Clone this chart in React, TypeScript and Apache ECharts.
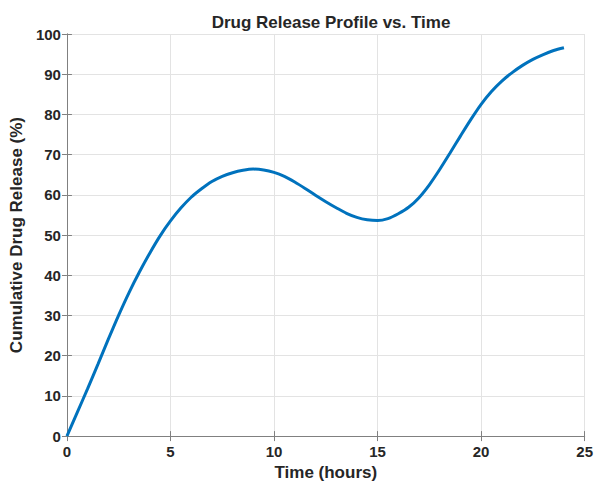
import React, { useEffect, useRef } from "react";
import * as echarts from "echarts";

const hours = [0, 0.5, 1, 1.5, 2, 2.5, 3, 3.5, 4, 4.5, 5, 5.5, 6, 6.5, 7, 7.5, 8, 8.5, 9, 9.5, 10, 10.5, 11, 11.5, 12, 12.5, 13, 13.5, 14, 14.5, 15, 15.5, 16, 16.5, 17, 17.5, 18, 18.5, 19, 19.5, 20, 20.5, 21, 21.5, 22, 22.5, 23, 23.5, 24];
const release = [0, 5.9, 11.8, 17.9, 24.1, 30.1, 35.7, 40.8, 45.5, 49.8, 53.5, 56.7, 59.4, 61.5, 63.3, 64.6, 65.5, 66.1, 66.4, 66.2, 65.6, 64.6, 63.2, 61.6, 59.9, 58.3, 56.8, 55.4, 54.4, 53.8, 53.6, 54.1, 55.3, 56.9, 59.3, 62.5, 66.3, 70.4, 74.6, 78.7, 82.5, 85.7, 88.3, 90.4, 92.2, 93.7, 94.9, 95.9, 96.6];

const xTicks = [0, 5, 10, 15, 20, 25];
const yTicks = [0, 10, 20, 30, 40, 50, 60, 70, 80, 90, 100];

const titleText = "Drug Release Profile vs. Time";
const xName = "Time (hours)";
const yName = "Cumulative Drug Release (%)";

const FONT = "'Liberation Sans', Arial, Helvetica, sans-serif";
const AXIS_COLOR = "#808080";
const GRID_COLOR = "#e3e3e3";
const TEXT_COLOR = "#262626";

export default function App() {
  const ref = useRef<HTMLDivElement>(null);
  useEffect(() => {
    if (!ref.current) return;
    const chart = echarts.init(ref.current, undefined, { renderer: "svg" });
    const axisLineStyle = { show: true, lineStyle: { color: AXIS_COLOR, width: 1 } };
    const tickStyle = { show: true, inside: true, length: 5, lineStyle: { color: AXIS_COLOR, width: 1 } };
    chart.setOption({
      animation: false,
      backgroundColor: "#ffffff",
      textStyle: { fontFamily: FONT },
      title: {
        text: titleText,
        left: 326,
        textAlign: "center",
        top: 9,
        textStyle: { fontFamily: FONT, fontSize: 17, fontWeight: "bold", color: TEXT_COLOR },
      },
      grid: { left: 66.5, right: 10, top: 34, bottom: 43, containLabel: false },
      xAxis: [
        {
          type: "value",
          min: xTicks[0],
          max: xTicks[xTicks.length - 1],
          interval: 5,
          position: "bottom",
          name: xName,
          nameLocation: "middle",
          nameGap: 25,
          nameTextStyle: { fontFamily: FONT, fontSize: 17, fontWeight: "bold", color: TEXT_COLOR },
          axisLine: axisLineStyle,
          axisTick: tickStyle,
          axisLabel: { margin: 8, fontFamily: FONT, fontSize: 15, fontWeight: "bold", color: TEXT_COLOR },
          splitLine: { show: true, lineStyle: { color: GRID_COLOR, width: 1 } },
        },
        {
          type: "value",
          min: xTicks[0],
          max: xTicks[xTicks.length - 1],
          interval: 5,
          position: "top",
          axisLine: axisLineStyle,
          axisTick: tickStyle,
          axisLabel: { show: false },
          splitLine: { show: false },
        },
      ],
      yAxis: [
        {
          type: "value",
          min: yTicks[0],
          max: yTicks[yTicks.length - 1],
          interval: 10,
          position: "left",
          name: yName,
          nameLocation: "middle",
          nameGap: 38,
          nameTextStyle: { fontFamily: FONT, fontSize: 17, fontWeight: "bold", color: TEXT_COLOR },
          axisLine: axisLineStyle,
          axisTick: tickStyle,
          axisLabel: { margin: 6, fontFamily: FONT, fontSize: 15, fontWeight: "bold", color: TEXT_COLOR },
          splitLine: { show: true, lineStyle: { color: GRID_COLOR, width: 1 } },
        },
        {
          type: "value",
          min: yTicks[0],
          max: yTicks[yTicks.length - 1],
          interval: 10,
          position: "right",
          axisLine: axisLineStyle,
          axisTick: tickStyle,
          axisLabel: { show: false },
          splitLine: { show: false },
        },
      ],
      series: [
        {
          type: "line",
          data: hours.map((h, i) => [h, release[i]]),
          smooth: 0.3,
          showSymbol: false,
          symbol: "none",
          lineStyle: { color: "#0072BD", width: 3 },
          itemStyle: { color: "#0072BD" },
        },
      ],
    });
    return () => chart.dispose();
  }, []);
  return <div ref={ref} style={{ position: "fixed", left: 0, top: 0, width: 596, height: 486 }} />;
}
